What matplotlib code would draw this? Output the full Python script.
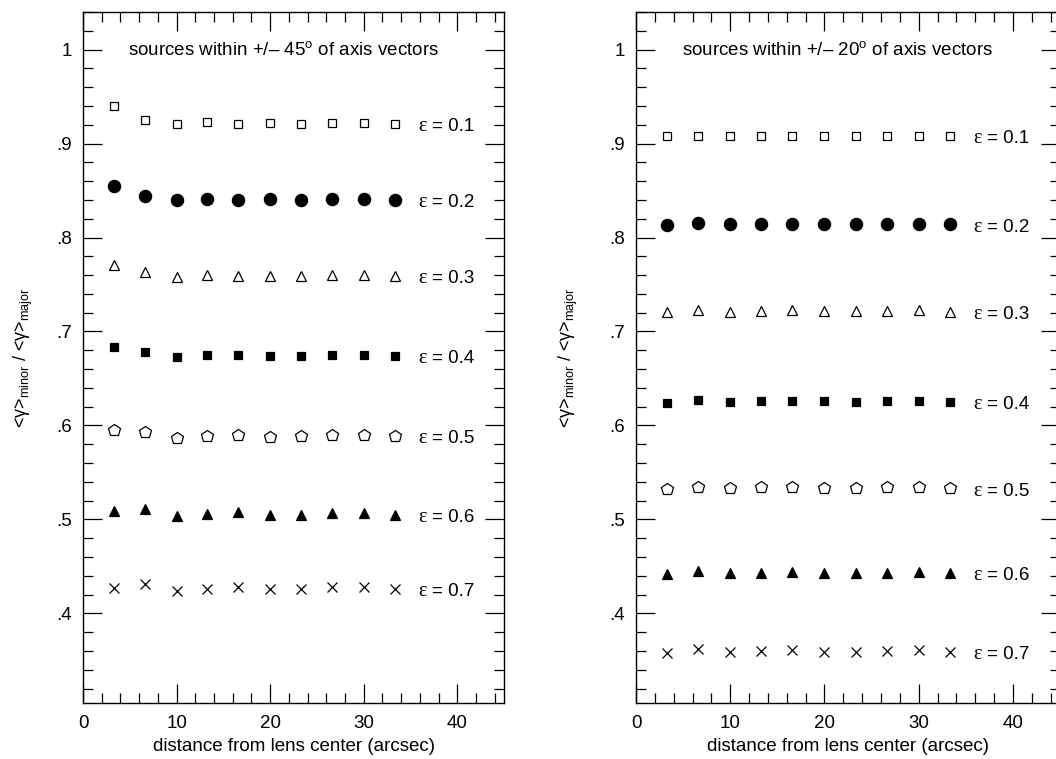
import numpy as np
import matplotlib
matplotlib.use("Agg")
import matplotlib.pyplot as plt
from matplotlib.ticker import MultipleLocator, FuncFormatter

plt.rcParams["font.family"] = ["Liberation Sans", "DejaVu Sans"]
plt.rcParams["mathtext.fontset"] = "custom"
plt.rcParams["mathtext.rm"] = "Liberation Sans"
plt.rcParams["mathtext.it"] = "Liberation Sans:italic"

# ── data ─────────────────────────────────────────────────────────────────────
dist = [3.3, 6.6, 10.0, 13.3, 16.6, 20.0, 23.3, 26.6, 30.0, 33.3]
eps_labels = ["0.1", "0.2", "0.3", "0.4", "0.5", "0.6", "0.7"]

# sources within +/- 45 deg
left_01 = [0.940, 0.925, 0.921, 0.923, 0.921, 0.922, 0.921, 0.922, 0.922, 0.921]
left_02 = [0.855, 0.844, 0.840, 0.841, 0.840, 0.841, 0.840, 0.841, 0.841, 0.840]
left_03 = [0.771, 0.763, 0.758, 0.760, 0.759, 0.759, 0.759, 0.760, 0.760, 0.759]
left_04 = [0.683, 0.678, 0.673, 0.675, 0.675, 0.674, 0.674, 0.675, 0.675, 0.674]
left_05 = [0.595, 0.593, 0.587, 0.589, 0.590, 0.588, 0.589, 0.590, 0.590, 0.589]
left_06 = [0.509, 0.511, 0.504, 0.506, 0.508, 0.505, 0.505, 0.507, 0.507, 0.505]
left_07 = [0.427, 0.431, 0.424, 0.426, 0.428, 0.426, 0.426, 0.428, 0.428, 0.426]

# sources within +/- 20 deg
right_01 = [0.908, 0.908, 0.908, 0.908, 0.908, 0.908, 0.908, 0.908, 0.908, 0.908]
right_02 = [0.813, 0.815, 0.814, 0.814, 0.814, 0.814, 0.814, 0.814, 0.814, 0.814]
right_03 = [0.721, 0.723, 0.721, 0.722, 0.723, 0.722, 0.722, 0.722, 0.723, 0.721]
right_04 = [0.624, 0.627, 0.625, 0.626, 0.626, 0.626, 0.625, 0.626, 0.626, 0.625]
right_05 = [0.532, 0.534, 0.533, 0.534, 0.534, 0.533, 0.533, 0.534, 0.534, 0.533]
right_06 = [0.442, 0.445, 0.443, 0.443, 0.444, 0.443, 0.443, 0.443, 0.444, 0.443]
right_07 = [0.358, 0.362, 0.359, 0.360, 0.361, 0.359, 0.359, 0.360, 0.361, 0.359]

panels = [
    ("sources within +/\u2013 45$^{\\rm o}$ of axis vectors",
     [left_01, left_02, left_03, left_04, left_05, left_06, left_07], -0.114),
    ("sources within +/\u2013 20$^{\\rm o}$ of axis vectors",
     [right_01, right_02, right_03, right_04, right_05, right_06, right_07], -0.132),
]

# marker style per eps: (marker, size, filled)
styles = [("s", 6.4, False), ("o", 8.8, True), ("^", 7.6, False),
          ("s", 6.4, True), ("p", 9.2, False), ("^", 7.6, True), ("x", 7.0, False)]

# ── figure ───────────────────────────────────────────────────────────────────
fig = plt.figure(figsize=(10.56, 7.59), dpi=100)
ax_rects = [[0.0786, 0.0742, 0.3987, 0.910],
            [0.6023, 0.0742, 0.4015, 0.910]]

ylabel = "<\u03b3>$_{\\rm minor}$ / <\u03b3>$_{\\rm major}$"

for rect, (title, series, ylab_x) in zip(ax_rects, panels):
    ax = fig.add_axes(rect)
    for ys, (mk, ms, filled) in zip(series, styles):
        if mk == "x":
            ax.plot(dist, ys, ls="none", marker="x", ms=ms, mew=0.9, color="black")
        else:
            ax.plot(dist, ys, ls="none", marker=mk, ms=ms, mew=0.9,
                    mec="black", mfc="black" if filled else "white")
    for ys, lab in zip(series, eps_labels):
        yl = ys[-1] - 0.003
        ax.text(35.8, yl, "\u03b5", family="Liberation Serif", fontsize=14.5,
                va="center", ha="left")
        ax.text(37.3, yl, "= " + lab, fontsize=13.5, va="center", ha="left")

    ax.text(21.4, 1.0, title, fontsize=13.5, ha="center", va="center")

    ax.set_xlim(0, 45)
    ax.set_ylim(0.305, 1.04)
    ax.xaxis.set_major_locator(MultipleLocator(10))
    ax.xaxis.set_minor_locator(MultipleLocator(2))
    ax.yaxis.set_major_locator(MultipleLocator(0.1))
    ax.yaxis.set_minor_locator(MultipleLocator(0.02))
    ax.yaxis.set_major_formatter(FuncFormatter(
        lambda v, p: "1" if abs(v - 1) < 1e-6 else ("%.1f" % v).lstrip("0")))
    ax.tick_params(which="both", direction="in", top=True, right=True,
                   width=0.9, labelsize=13.5)
    ax.tick_params(axis="x", pad=9)
    ax.tick_params(axis="y", pad=8)
    ax.tick_params(which="major", length=14)
    ax.tick_params(which="minor", length=7)
    for sp in ax.spines.values():
        sp.set_linewidth(1.0)
    ax.set_xlabel("distance from lens center (arcsec)", fontsize=13.5, labelpad=4)
    ax.set_ylabel(ylabel, fontsize=13)
    ax.yaxis.set_label_coords(ylab_x, 0.5)

fig.savefig("out.png", dpi=100)
